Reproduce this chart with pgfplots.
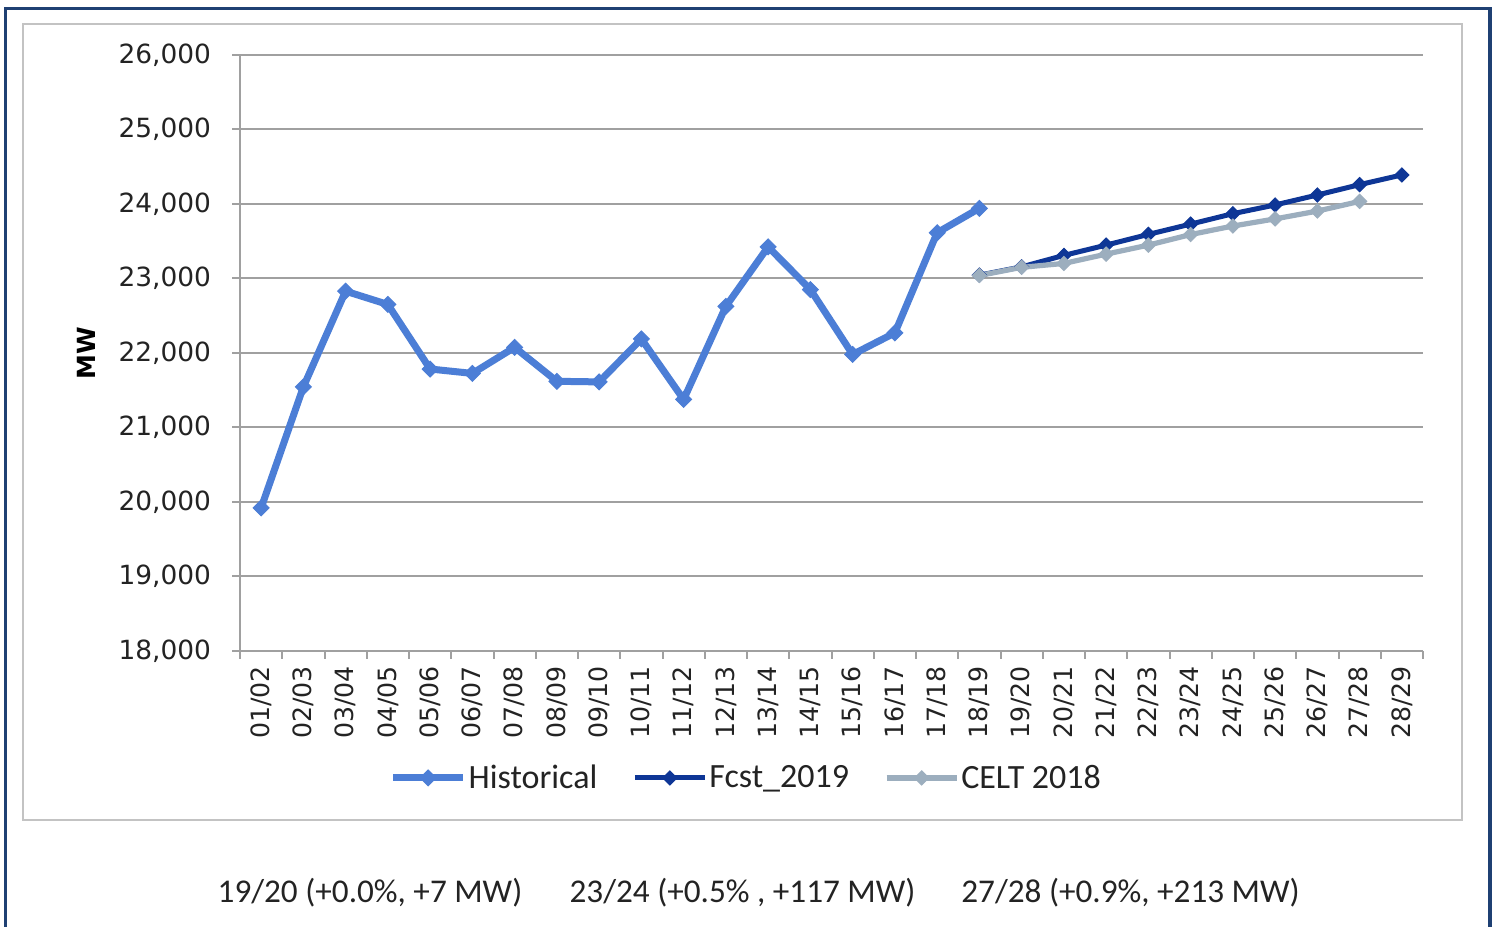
\documentclass[border=0pt]{standalone}
\usepackage{fontspec}
\setmainfont{Carlito}
\newfontfamily\dejavu{DejaVu Sans}
\usepackage{pgfplots}
\pgfplotsset{compat=1.18}
\usepackage{pgfplotstable}

\definecolor{histc}{RGB}{76,126,214}
\definecolor{fcstc}{RGB}{14,54,150}
\definecolor{celtc}{RGB}{156,174,190}
\definecolor{navy}{RGB}{31,64,115}
\definecolor{gridc}{RGB}{160,160,160}
\definecolor{boxc}{RGB}{195,195,195}
\definecolor{txtc}{RGB}{35,35,35}

\pgfplotstableread{
x y
0 19920
1 21545
2 22830
3 22651
4 21785
5 21726
6 22076
7 21620
8 21612
9 22188
10 21376
11 22626
12 23425
13 22852
14 21980
15 22270
16 23614
17 23942
}\histdata

\pgfplotstableread{
x y
17 23045
18 23156
19 23310
20 23448
21 23592
22 23730
23 23870
24 23987
25 24121
26 24260
27 24390
}\fcstdata

\pgfplotstableread{
x y
17 23040
18 23150
19 23202
20 23327
21 23448
22 23590
23 23704
24 23800
25 23905
26 24035
}\celtdata

\begin{document}
\begin{tikzpicture}
\fill[white] (0pt,0pt) rectangle (749.5pt,462.5pt);
\draw[navy, line width=1.75pt] (2.75pt,-1pt) -- (2.75pt,458.25pt) -- (745pt,458.25pt) -- (745pt,-1pt);
\draw[boxc, line width=1pt] (11.25pt,52.5pt) rectangle (731pt,450.35pt);
\begin{axis}[
  at={(120pt,137pt)}, anchor=south west,
  width=591.5pt, height=298pt, scale only axis,
  xmin=-0.5, xmax=27.5, ymin=18000, ymax=26000,
  ytick={18000,19000,...,26000},
  scaled y ticks=false,
  xtick={0,...,27},
  xticklabels={01/02,02/03,03/04,04/05,05/06,06/07,07/08,08/09,09/10,10/11,11/12,12/13,13/14,14/15,15/16,16/17,17/18,18/19,19/20,20/21,21/22,22/23,23/24,24/25,25/26,26/27,27/28,28/29},
  minor xtick={-0.5,0.5,...,27.5},
  axis lines=left,
  axis line style={gridc, line width=1pt, -},
  ymajorgrids,
  grid style={gridc, line width=1pt},
  tick style={gridc, line width=1pt},
  major x tick style={draw=none},
  major tick length=4pt, minor tick length=4pt,
  tick align=outside,
  /pgf/number format/assume math mode=true,
  /pgf/number format/1000 sep={,},
  /pgf/number format/fixed,
  y tick label style={font=\fontsize{13.2}{15}\dejavu, text=txtc, xshift=-7pt},
  x tick label style={font=\fontsize{12.6}{15}\dejavu, text=txtc, rotate=90, anchor=east},
  ylabel={MW},
  ylabel style={at={(axis description cs:-0.130,0.5)}, anchor=center, font=\fontsize{12.5}{15}\dejavu\bfseries, text=black},
  legend columns=3,
  legend style={at={(axis description cs:0.428,-0.213)}, anchor=center, draw=none, fill=none,
    font=\fontsize{17}{20}\selectfont, text=txtc,
    nodes={inner sep=1pt},
    /tikz/every even column/.append style={column sep=16.5pt}},
  legend image code/.code={\draw[mark repeat=2,mark phase=2] plot coordinates {(0pt,0pt)(17.5pt,0pt)(35pt,0pt)};},
]
\addplot[histc, line width=3.5pt, mark=square*, mark size=2.8pt, mark options={rotate=45, line width=0.5pt, fill=histc}] table[x=x,y=y] {\histdata};
\addlegendentry{Historical}
\addplot[fcstc, line width=2.5pt, mark=square*, mark size=2.5pt, mark options={rotate=45, line width=0.5pt, fill=fcstc}] table[x=x,y=y] {\fcstdata};
\addlegendentry{Fcst\_2019}
\addplot[celtc, line width=2.6pt, mark=square*, mark size=2.5pt, mark options={rotate=45, line width=0.5pt, fill=celtc}] table[x=x,y=y] {\celtdata};
\addlegendentry{CELT 2018}
\end{axis}
\node[text=txtc, font=\fontsize{16.6}{20}\selectfont] at (185pt,16pt) {19/20 (+0.0\%, +7 MW)};
\node[text=txtc, font=\fontsize{16.6}{20}\selectfont] at (371.25pt,16pt) {23/24 (+0.5\% , +117 MW)};
\node[text=txtc, font=\fontsize{16.6}{20}\selectfont] at (565.25pt,16pt) {27/28 (+0.9\%, +213 MW)};
\end{tikzpicture}
\end{document}
